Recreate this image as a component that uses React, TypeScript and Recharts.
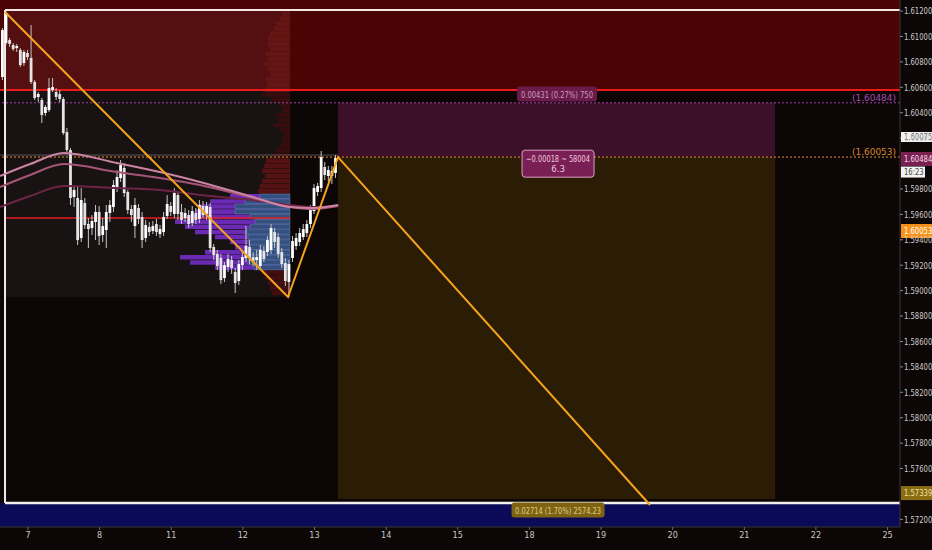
import React from 'react';
import {
  ComposedChart, Bar, Line, XAxis, YAxis, ReferenceArea, ReferenceLine, ReferenceDot,
} from 'recharts';

document.body.style.margin = '0';
document.body.style.background = '#0c0606';

const FONT = "'Liberation Sans Narrow', 'DejaVu Sans Condensed', 'Liberation Sans', sans-serif";

// time axis: trading days, one unit per day
const dayLabels = ['7', '8', '11', '12', '13', '14', '15', '18', '19', '20', '21', '22', '25'];
const dayTicks = dayLabels.map((_, i) => i);
const xMin = -0.391;
const xMax = 12.174;

// price axis
const priceTicks = [1.612, 1.61, 1.608, 1.606, 1.604, 1.602, 1.598, 1.596, 1.594, 1.592, 1.59, 1.588,
  1.586, 1.584, 1.582, 1.58, 1.578, 1.576, 1.572];
const yMin = 1.5714;
const yMax = 1.61287;

// candles, [open, high, low, close], one every 0.05 day
const candleStart = -0.357;
const candleStep = 0.05;
const ohlc: number[][] = [
  [1.60681, 1.61067, 1.60657, 1.61051], [1.60949, 1.61200, 1.60933, 1.61185], [1.60972, 1.60988, 1.60917, 1.60941],
  [1.60933, 1.60949, 1.60886, 1.60901], [1.60909, 1.60941, 1.60878, 1.60925], [1.60894, 1.60909, 1.60760, 1.60775],
  [1.60791, 1.60894, 1.60768, 1.60878], [1.60870, 1.60894, 1.60815, 1.60838], [1.60831, 1.61090, 1.60626, 1.60642],
  [1.60642, 1.60657, 1.60500, 1.60516], [1.60524, 1.60563, 1.60484, 1.60547], [1.60500, 1.60516, 1.60319, 1.60382],
  [1.60398, 1.60461, 1.60374, 1.60445], [1.60421, 1.60673, 1.60406, 1.60594], [1.60579, 1.60673, 1.60563, 1.60602],
  [1.60563, 1.60594, 1.60500, 1.60524], [1.60547, 1.60579, 1.60484, 1.60508], [1.60508, 1.60524, 1.60225, 1.60240],
  [1.60248, 1.60280, 1.60091, 1.60106], [1.60106, 1.60122, 1.59674, 1.59729], [1.59737, 1.59823, 1.59658, 1.59792],
  [1.59729, 1.59823, 1.59359, 1.59398], [1.59414, 1.59807, 1.59383, 1.59713], [1.59689, 1.59729, 1.59485, 1.59516],
  [1.59524, 1.59571, 1.59335, 1.59485], [1.59493, 1.59595, 1.59438, 1.59548], [1.59540, 1.59674, 1.59398, 1.59619],
  [1.59619, 1.59666, 1.59359, 1.59430], [1.59438, 1.59571, 1.59383, 1.59508], [1.59477, 1.59674, 1.59335, 1.59619],
  [1.59611, 1.59713, 1.59540, 1.59674], [1.59658, 1.59870, 1.59619, 1.59831], [1.59807, 1.59949, 1.59776, 1.59894],
  [1.59886, 1.60028, 1.59855, 1.59988], [1.59965, 1.60004, 1.59737, 1.59768], [1.59776, 1.59792, 1.59603, 1.59634],
  [1.59642, 1.59674, 1.59540, 1.59595], [1.59508, 1.59729, 1.59414, 1.59674], [1.59650, 1.59682, 1.59524, 1.59564],
  [1.59579, 1.59619, 1.59335, 1.59398], [1.59414, 1.59556, 1.59383, 1.59516], [1.59501, 1.59540, 1.59430, 1.59461],
  [1.59469, 1.59548, 1.59445, 1.59508], [1.59524, 1.59564, 1.59430, 1.59461], [1.59445, 1.59516, 1.59414, 1.59485],
  [1.59461, 1.59619, 1.59430, 1.59579], [1.59587, 1.59752, 1.59564, 1.59682], [1.59666, 1.59697, 1.59587, 1.59619],
  [1.59603, 1.59807, 1.59571, 1.59768], [1.59752, 1.59776, 1.59556, 1.59603], [1.59619, 1.59682, 1.59524, 1.59556],
  [1.59571, 1.59650, 1.59540, 1.59611], [1.59595, 1.59634, 1.59493, 1.59524], [1.59532, 1.59666, 1.59508, 1.59626],
  [1.59611, 1.59650, 1.59524, 1.59556], [1.59564, 1.59713, 1.59532, 1.59674], [1.59666, 1.59705, 1.59571, 1.59595],
  [1.59603, 1.59697, 1.59556, 1.59666], [1.59658, 1.59689, 1.59304, 1.59335], [1.59343, 1.59367, 1.59241, 1.59280],
  [1.59288, 1.59320, 1.59162, 1.59194], [1.59257, 1.59288, 1.59052, 1.59083], [1.59099, 1.59225, 1.59068, 1.59201],
  [1.59186, 1.59288, 1.59147, 1.59249], [1.59241, 1.59272, 1.59131, 1.59178], [1.59147, 1.59178, 1.58981, 1.59060],
  [1.59076, 1.59241, 1.59044, 1.59209], [1.59201, 1.59304, 1.59162, 1.59264], [1.59257, 1.59508, 1.59225, 1.59351],
  [1.59343, 1.59398, 1.59209, 1.59257], [1.59264, 1.59304, 1.59194, 1.59225], [1.59241, 1.59320, 1.59162, 1.59264],
  [1.59194, 1.59359, 1.59178, 1.59320], [1.59312, 1.59351, 1.59225, 1.59249], [1.59304, 1.59430, 1.59272, 1.59398],
  [1.59320, 1.59524, 1.59288, 1.59493], [1.59461, 1.59493, 1.59335, 1.59383], [1.59422, 1.59453, 1.59257, 1.59288],
  [1.59304, 1.59335, 1.59178, 1.59209], [1.59217, 1.59257, 1.59036, 1.59076], [1.59068, 1.59241, 1.58950, 1.59209],
  [1.59257, 1.59430, 1.59225, 1.59390], [1.59351, 1.59453, 1.59320, 1.59414], [1.59383, 1.59493, 1.59351, 1.59453],
  [1.59422, 1.59524, 1.59398, 1.59485], [1.59453, 1.59556, 1.59422, 1.59524], [1.59524, 1.59674, 1.59493, 1.59634],
  [1.59626, 1.59839, 1.59603, 1.59807], [1.59776, 1.59847, 1.59745, 1.59823], [1.59807, 1.60099, 1.59776, 1.60051],
  [1.59973, 1.60012, 1.59870, 1.59910], [1.59902, 1.59981, 1.59855, 1.59949], [1.59941, 1.59981, 1.59839, 1.59902],
  [1.59926, 1.60067, 1.59886, 1.60044],
];
const candles = ohlc.map(([o, h, l, c], k) => ({ t: candleStart + k * candleStep, o, h, l, c }));

// moving averages
const maT = [-0.39, 0.03, 0.5, 1.24, 1.84, 2.4, 3.14, 3.66, 3.98, 4.33];
const ma1 = [1.59902, 1.59996, 1.60083, 1.60004, 1.59933, 1.59855, 1.59737, 1.59658, 1.59650, 1.59674];
const ma2 = [1.59815, 1.59910, 1.59996, 1.59933, 1.59886, 1.59831, 1.59729, 1.59658, 1.59642, 1.59666];
const ma3 = [1.59658, 1.59745, 1.59823, 1.59807, 1.59792, 1.59752, 1.59713, 1.59674, 1.59658, 1.59666];
const maData = maT.map((t, i) => ({ t, ma1: ma1[i], ma2: ma2[i], ma3: ma3[i] }));

// zigzag drawing
const zzT = [-0.321, 3.63, 4.328, 8.684];
const zzP = [1.61193, 1.58950, 1.60051, 1.57313];
const zigzag = zzT.map((t, i) => ({ t, p: zzP[i] }));

// drawing levels and edges
const frameLeft = -0.321;
const frameTop = 1.61208;
const frameBottom = 1.57329;
const redLevel = 1.60579;
const purpleLevel = 1.60478;
const orangeLevel = 1.60051;
const crossLevel = 1.60067;
const midRedLevel = 1.59572;
const profileRight = 3.658;
const profileBottom = 1.5895;
const boxLeft = 4.328;
const boxRight = 10.43;
const boxBottom = 1.5736;

// volume profile, bins of 0.0004 from 1.6120 down
const vpTop = 1.612;
const vpStep = 0.0004;
const vpVolume = [8, 10, 14, 16, 20, 22, 22, 20, 24, 22, 25, 22, 20, 24, 22, 25, 28, 18, 10, 8, 14, 12, 16, 10, 6, 8,
  10, 14, 18, 24, 26, 28, 25, 28, 30, 32, 60, 80, 90, 95, 100, 115, 105, 95, 75, 60, 55, 85, 110, 100, 75, 28, 25, 22,
  20, 18];
const vpBlue = [0, 0, 0, 0, 0, 0, 0, 0, 0, 0, 0, 0, 0, 0, 0, 0, 0, 0, 0, 0, 0, 0, 0, 0, 0, 0, 0, 0, 0, 0, 0, 0, 0, 0,
  0, 0, 30, 45, 55, 55, 40, 35, 40, 44, 42, 42, 40, 42, 45, 42, 36, 0, 0, 0, 0, 0];
const vpUnit = 1 / 71.63;

const binColor = (top: number, blue: number) => {
  if (blue > 0) return '#6a2ab4';
  if (top > redLevel) return '#661515';
  if (top > orangeLevel) return '#360c0c';
  if (top > 1.5975) return '#561212';
  return '#420e0e';
};

// text labels
const planTags = [
  { t: 7.385, p: 1.60547, w: 80, h: 15, tl: 72, lines: ['0.00431 (0.27%) 750'], fill: '#6a1b4a', stroke: 'none', color: '#c99bb9' },
  { t: 7.4, p: 1.59999, w: 72, h: 27, tl: 64, lines: ['\u22120.00018 ~ 58004', '6.3'], fill: '#7a1f55', stroke: '#d8a3c2', color: '#ecc9dc' },
  { t: 7.4, p: 1.57273, w: 93, h: 15, tl: 86, lines: ['0.02714 (1.70%) 2574.23'], fill: '#7f6311', stroke: 'none', color: '#dccb8c' },
];
const axisTags = [
  { p: 1.60209, h: 10, w: 31, text: '1.60075', fill: '#f2f2f2', color: '#555' },
  { p: 1.60036, h: 14, w: 31, text: '1.60484', fill: '#7b2152', color: '#f6dce9' },
  { p: 1.59933, h: 11, w: 24, text: '16:23', fill: '#f2f2f2', color: '#444' },
  { p: 1.59469, h: 14, w: 31, text: '1.60053', fill: '#f7931a', color: '#ffffff' },
  { p: 1.57407, h: 14, w: 31, text: '1.57339', fill: '#8a6c12', color: '#f3e3a6' },
];
const levelTags = [
  { p: 1.60516, text: '(1.60484)', color: '#a54cb2' },
  { p: 1.60091, text: '(1.60053)', color: '#d4862c' },
];

const Candle = (props: any) => {
  const { x, y, width, height, payload } = props;
  if (x == null || y == null || !payload) return null;
  const { o, h, l, c } = payload;
  const span = h - l || 1e-9;
  const py = (p: number) => y + ((h - p) / span) * height;
  const cx = x + width / 2;
  const top = py(Math.max(o, c));
  const bot = py(Math.min(o, c));
  return (
    <g>
      <line x1={cx} x2={cx} y1={y} y2={y + height} stroke="#c4c4c4" strokeWidth={1} />
      <rect x={cx - 1.4} y={top} width={2.8} height={Math.max(1, bot - top)} fill={c >= o ? '#ffffff' : '#e4e4e4'} />
    </g>
  );
};

// narrow axis text: squeeze horizontally, like the condensed TradingView font
const NarrowText = ({ x, y, fill, children }: { x: number; y: number; fill: string; children: string }) => (
  <text transform={`translate(${x},${y}) scale(0.8,1)`} x={0} y={0} dy="0.35em" fill={fill} fontSize={9.5}
    fontFamily={FONT}>{children}</text>
);

const PriceTick = (props: any) => {
  const { x, y, payload } = props;
  return <NarrowText x={x} y={y} fill="#cdcdcd">{Number(payload.value).toFixed(5)}</NarrowText>;
};

const planShape = (tag: typeof planTags[number]) => (p: any) => {
  const { cx, cy } = p;
  if (cx == null || cy == null) return <g />;
  const n = tag.lines.length;
  return (
    <g>
      <rect x={cx - tag.w / 2} y={cy - tag.h / 2} width={tag.w} height={tag.h} rx={3} fill={tag.fill} stroke={tag.stroke} />
      {tag.lines.map((s, i) => (
        <text key={i} x={cx} y={cy + (i - (n - 1) / 2) * 10.5} textAnchor="middle" dominantBaseline="central"
          fill={tag.color} fontSize={9.5} fontFamily={FONT}
          textLength={i === 0 ? tag.tl : undefined} lengthAdjust="spacingAndGlyphs">{s}</text>
      ))}
    </g>
  );
};

const axisShape = (tag: typeof axisTags[number]) => (p: any) => {
  const { cx, cy } = p;
  if (cx == null || cy == null) return <g />;
  return (
    <g>
      <rect x={cx + 1} y={cy - tag.h / 2} width={tag.w} height={tag.h} fill={tag.fill} />
      <NarrowText x={cx + 4} y={cy} fill={tag.color}>{tag.text}</NarrowText>
    </g>
  );
};

const levelShape = (tag: typeof levelTags[number]) => (p: any) => {
  const { cx, cy } = p;
  if (cx == null || cy == null) return <g />;
  return (
    <text x={cx - 4} y={cy} textAnchor="end" dominantBaseline="central" fill={tag.color} fontSize={9.5}
      fontFamily={FONT} textLength={44} lengthAdjust="spacingAndGlyphs">{tag.text}</text>
  );
};

export default function App() {
  return (
    <div style={{ width: 932, height: 550, background: '#0c0606' }}>
      <ComposedChart width={932} height={550} data={candles} margin={{ top: 0, right: 0, bottom: 0, left: 0 }}>
        <XAxis type="number" dataKey="t" domain={[xMin, xMax]} allowDataOverflow ticks={dayTicks} interval={0}
          tickFormatter={(v: number) => dayLabels[v] ?? ''} height={23} tickSize={3}
          axisLine={{ stroke: '#3a3434' }} tickLine={{ stroke: '#6a6a6a' }}
          tick={{ fill: '#c8c8c8', fontSize: 9, fontFamily: FONT }} />
        <YAxis type="number" orientation="right" domain={[yMin, yMax]} allowDataOverflow ticks={priceTicks}
          width={32} tickSize={3} tickMargin={1} interval={0}
          axisLine={{ stroke: '#3a3434' }} tickLine={{ stroke: '#8a8a8a' }} tick={<PriceTick />} />

        {/* background zones */}
        <ReferenceArea x1={xMin} x2={xMax} y1={redLevel} y2={yMax} fill="#4b0404" fillOpacity={1} ifOverflow="hidden" zIndex={1} />
        <ReferenceArea x1={xMin} x2={xMax} y1={yMin} y2={frameBottom} fill="#0b0a58" fillOpacity={1} ifOverflow="hidden" zIndex={1} />
        <ReferenceArea x1={boxLeft} x2={boxRight} y1={orangeLevel} y2={purpleLevel} fill="#3c1029" fillOpacity={1} ifOverflow="hidden" zIndex={1} />
        <ReferenceArea x1={boxLeft} x2={boxRight} y1={boxBottom} y2={orangeLevel} fill="#2a1c05" fillOpacity={1} ifOverflow="hidden" zIndex={1} />
        <ReferenceArea x1={frameLeft} x2={profileRight} y1={profileBottom} y2={frameTop} fill="#ffffff" fillOpacity={0.05} ifOverflow="hidden" zIndex={2} />

        {/* volume profile */}
        {vpVolume.map((v, i) => {
          const top = vpTop - i * vpStep;
          return (
            <ReferenceArea key={'vp' + i} x1={profileRight - v * vpUnit} x2={profileRight} y1={top - vpStep * 0.9} y2={top}
              fill={binColor(top, vpBlue[i])} fillOpacity={1} ifOverflow="hidden" zIndex={3} />
          );
        })}
        {vpBlue.map((v, i) => {
          if (!v) return null;
          const top = vpTop - i * vpStep;
          return (
            <ReferenceArea key={'vb' + i} x1={profileRight - v * vpUnit} x2={profileRight} y1={top - vpStep * 0.9} y2={top}
              fill="#33507f" fillOpacity={1} stroke="#6585b8" strokeWidth={0.5} ifOverflow="hidden" zIndex={4} />
          );
        })}

        {/* levels and frame */}
        <ReferenceLine y={redLevel} stroke="#ec1b1b" strokeWidth={2} ifOverflow="hidden" zIndex={5} />
        <ReferenceLine y={purpleLevel} stroke="#9e40a6" strokeDasharray="2 2" ifOverflow="hidden" zIndex={5} />
        <ReferenceLine segment={[{ x: xMin, y: crossLevel }, { x: boxLeft, y: crossLevel }]} stroke="#8a8484" strokeOpacity={0.6} ifOverflow="hidden" zIndex={5} />
        <ReferenceLine y={orangeLevel} stroke="#e8922a" strokeDasharray="2 2" ifOverflow="hidden" zIndex={5} />
        <ReferenceLine segment={[{ x: frameLeft, y: midRedLevel }, { x: profileRight, y: midRedLevel }]} stroke="#e41e1e" strokeWidth={1.5} ifOverflow="hidden" zIndex={5} />
        <ReferenceLine segment={[{ x: frameLeft, y: frameTop }, { x: xMax, y: frameTop }]} stroke="#f2e8e8" strokeWidth={2} ifOverflow="hidden" zIndex={6} />
        <ReferenceLine segment={[{ x: frameLeft, y: frameBottom }, { x: xMax, y: frameBottom }]} stroke="#f2eeee" strokeWidth={2.5} ifOverflow="hidden" zIndex={6} />
        <ReferenceLine segment={[{ x: frameLeft, y: frameTop }, { x: frameLeft, y: frameBottom }]} stroke="#f2e8e8" strokeWidth={2} ifOverflow="hidden" zIndex={6} />

        <Bar dataKey={(d: any) => [d.l, d.h]} barSize={3} shape={<Candle />} isAnimationActive={false} zIndex={300} />

        <Line data={maData} dataKey="ma3" type="monotone" stroke="#6e2446" strokeWidth={2} dot={false} isAnimationActive={false} zIndex={400} />
        <Line data={maData} dataKey="ma2" type="monotone" stroke="#a55577" strokeWidth={2} dot={false} isAnimationActive={false} zIndex={400} />
        <Line data={maData} dataKey="ma1" type="monotone" stroke="#cc84a4" strokeWidth={2} dot={false} isAnimationActive={false} zIndex={400} />
        <Line data={zigzag} dataKey="p" type="linear" stroke="#f5a31c" strokeWidth={2} dot={false} isAnimationActive={false} zIndex={450} />

        {planTags.map((tag, i) => (
          <ReferenceDot key={'pt' + i} x={tag.t} y={tag.p} r={0} ifOverflow="visible" shape={planShape(tag)} zIndex={700} />
        ))}
        {levelTags.map((tag, i) => (
          <ReferenceDot key={'lt' + i} x={xMax} y={tag.p} r={0} ifOverflow="visible" shape={levelShape(tag)} zIndex={700} />
        ))}
        {axisTags.map((tag, i) => (
          <ReferenceDot key={'at' + i} x={xMax} y={tag.p} r={0} ifOverflow="visible" shape={axisShape(tag)} zIndex={800} />
        ))}
      </ComposedChart>
    </div>
  );
}
